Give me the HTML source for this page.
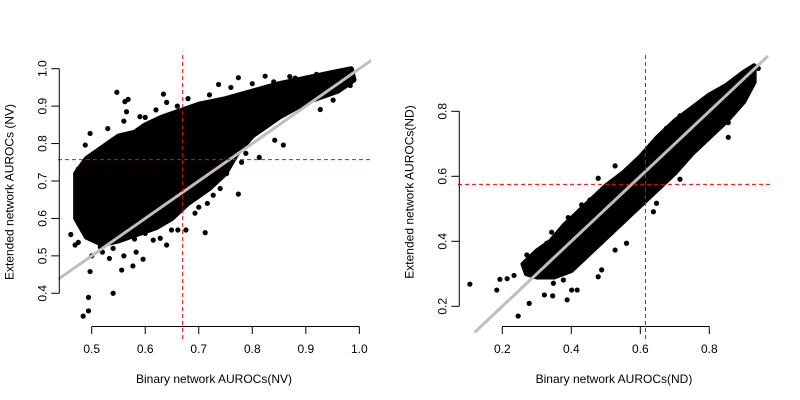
<!DOCTYPE html>
<html><head><meta charset="utf-8"><style>
html,body{margin:0;padding:0;background:#fff;width:800px;height:400px;overflow:hidden}
svg{display:block}
text{font-family:"Liberation Sans",sans-serif;font-size:12px;fill:#000}
</style></head><body>
<svg id="c" width="800" height="400" viewBox="0 0 800 400" xmlns="http://www.w3.org/2000/svg" style="overflow:hidden">
<defs>
<clipPath id="clipL"><rect x="58" y="55" width="313" height="285"/></clipPath>
<clipPath id="clipR"><rect x="458" y="55" width="313" height="285"/></clipPath>
</defs>
</svg>
<script>
// Left panel (NV)
const leftXTicks=[0.5,0.6,0.7,0.8,0.9,1.0];
const leftYTicks=[0.4,0.5,0.6,0.7,0.8,0.9,1.0];
const leftXLabels=["0.5","0.6","0.7","0.8","0.9","1.0"];
const leftYLabels=["0.4","0.5","0.6","0.7","0.8","0.9","1.0"];
const leftVRef=0.67, leftHRef=0.757;
const leftCore=[[0.47,0.60],[0.47,0.72],[0.49,0.76],[0.52,0.79],[0.55,0.82],[0.58,0.83],[0.60,0.85],[0.63,0.87],[0.65,0.88],[0.70,0.905],[0.75,0.92],[0.80,0.94],[0.85,0.96],[0.90,0.975],[0.95,0.99],[0.985,1.0],[0.99,0.97],[0.96,0.94],[0.90,0.91],[0.85,0.87],[0.80,0.82],[0.77,0.77],[0.75,0.72],[0.72,0.68],[0.68,0.64],[0.65,0.60],[0.62,0.575],[0.58,0.555],[0.55,0.54],[0.52,0.53],[0.49,0.55]];
const leftPtsX=[0.484,0.494,0.494,0.540,0.497,0.556,0.577,0.596,0.583,0.533,0.461,0.475,0.469,0.475,0.488,0.547,0.562,0.568,0.565,0.590,0.634,0.737,0.774,0.824,0.870,0.712,0.676,0.661,0.716,0.693,0.727,0.774,0.752,0.788,0.813,0.858,0.842,0.927,0.951,0.983,0.640,0.615,0.628,0.649,0.516,0.531,0.519,0.653,0.497,0.534,0.50,0.52,0.53,0.56,0.60,0.62,0.64,0.66,0.68,0.72,0.76,0.80,0.84,0.88,0.92,0.58,0.54,0.70,0.74,0.78,0.60,0.56];
const leftPtsY=[0.339,0.389,0.353,0.400,0.458,0.462,0.473,0.491,0.510,0.493,0.557,0.536,0.529,0.732,0.796,0.937,0.912,0.918,0.885,0.872,0.932,0.958,0.976,0.980,0.979,0.562,0.569,0.569,0.640,0.614,0.662,0.665,0.720,0.774,0.763,0.796,0.809,0.891,0.916,0.955,0.529,0.542,0.547,0.569,0.524,0.587,0.662,0.627,0.827,0.783,0.50,0.51,0.84,0.86,0.87,0.89,0.91,0.90,0.92,0.93,0.95,0.96,0.965,0.975,0.985,0.545,0.52,0.63,0.68,0.75,0.56,0.50];
// Right panel (ND)
const rightXTicks=[0.2,0.4,0.6,0.8];
const rightYTicks=[0.2,0.4,0.6,0.8];
const rightXLabels=["0.2","0.4","0.6","0.8"];
const rightYLabels=["0.2","0.4","0.6","0.8"];
const rightVRef=0.615, rightHRef=0.575;
const rightCore=[[0.26,0.33],[0.30,0.37],[0.34,0.40],[0.38,0.45],[0.44,0.51],[0.50,0.57],[0.55,0.61],[0.60,0.66],[0.65,0.72],[0.70,0.77],[0.75,0.81],[0.80,0.85],[0.85,0.88],[0.90,0.92],[0.93,0.94],[0.93,0.89],[0.90,0.83],[0.85,0.77],[0.80,0.72],[0.75,0.67],[0.70,0.61],[0.65,0.56],[0.60,0.51],[0.55,0.46],[0.50,0.41],[0.45,0.36],[0.40,0.31],[0.35,0.29],[0.30,0.29],[0.27,0.30]];
const rightPtsX=[0.106,0.184,0.193,0.214,0.234,0.246,0.278,0.271,0.329,0.343,0.322,0.346,0.388,0.401,0.417,0.488,0.478,0.527,0.560,0.638,0.647,0.715,0.676,0.715,0.778,0.855,0.855,0.942,0.527,0.478,0.430,0.391,0.454,0.300,0.290,0.348,0.377];
const rightPtsY=[0.268,0.250,0.283,0.285,0.295,0.170,0.209,0.358,0.394,0.428,0.235,0.232,0.220,0.250,0.250,0.312,0.291,0.373,0.394,0.491,0.517,0.591,0.748,0.786,0.830,0.765,0.720,0.932,0.632,0.594,0.512,0.473,0.527,0.358,0.302,0.271,0.281];

const NS='http://www.w3.org/2000/svg';
const svg=document.getElementById('c');
function mk(tag,attrs,parent){const e=document.createElementNS(NS,tag);for(const k in attrs)e.setAttribute(k,attrs[k]);(parent||svg).appendChild(e);return e;}

function panel(o){
  const sx=v=>o.x0+(v-o.vx0)*o.kx, sy=v=>o.y0+(o.vy0-v)*o.ky;
  const g=mk('g',{});
  
  
  const pg=mk('g',{'clip-path':'url(#'+o.clip+')'},g);
  const poly=mk('polygon',{points:o.core.map(p=>sx(p[0])+','+sy(p[1])).join(' '),fill:'#000',stroke:'#000','stroke-width':5,'stroke-linejoin':'round'},pg);
  
  
  for(let i=0;i<o.px.length;i++){
    const c=mk('circle',{cx:sx(o.px[i]),cy:sy(o.py[i]),r:2.6,fill:'#000'},pg);
    
    
  }
  const dl=mk('line',{x1:sx(o.lo),y1:sy(o.lo),x2:sx(o.hi),y2:sy(o.hi),stroke:'#bebebe','stroke-width':3},pg);
  
  
  const vr=mk('line',{x1:sx(o.vref),y1:o.top,x2:sx(o.vref),y2:o.bot,stroke:'#ff0000','stroke-width':1,'stroke-dasharray':'4,3'},pg);
  
  
  const hr=mk('line',{x1:o.left,y1:sy(o.href),x2:o.right,y2:sy(o.href),stroke:'#ff0000','stroke-width':1,'stroke-dasharray':'4,3'},pg);
  
  
  const xa=mk('g',{},g);
  
  
  mk('line',{x1:sx(o.xt[0]),y1:326.5,x2:sx(o.xt[o.xt.length-1]),y2:326.5,stroke:'#000'},xa);
  o.xt.forEach((v,i)=>{
    mk('line',{x1:sx(v),y1:326.5,x2:sx(v),y2:334,stroke:'#000'},xa);
    const t=mk('text',{x:sx(v),y:353,'text-anchor':'middle'},xa);t.textContent=o.xl[i];
    
    
  });
  const ya=mk('g',{},g);
  
  
  mk('line',{x1:o.ax,y1:sy(o.yt[0]),x2:o.ax,y2:sy(o.yt[o.yt.length-1]),stroke:'#000'},ya);
  o.yt.forEach((v,i)=>{
    mk('line',{x1:o.ax,y1:sy(v),x2:o.ax-8,y2:sy(v),stroke:'#000'},ya);
    const t=mk('text',{x:o.ax-13,y:sy(v),'text-anchor':'middle',transform:'rotate(-90 '+(o.ax-13)+' '+sy(v)+')'},ya);t.textContent=o.yl[i];
    
    
  });
  const xt=mk('text',{x:o.xtX,y:383,'text-anchor':'middle'},g);xt.textContent=o.xtitle;
  
  
  const yt=mk('text',{x:o.ax-46,y:o.ytY,'text-anchor':'middle',transform:'rotate(-90 '+(o.ax-46)+' '+o.ytY+')'},g);yt.textContent=o.ytitle;
  
  
}
panel({name:'left-panel-nv',clip:'clipL',x0:91.7,vx0:0.5,kx:535.3,y0:68.7,vy0:1.0,ky:374.3,ax:59.3,
  left:58,right:371,top:55,bot:340,lo:0.4376,hi:1.03,
  core:leftCore,px:leftPtsX,py:leftPtsY,vref:leftVRef,href:leftHRef,xt:leftXTicks,yt:leftYTicks,xl:leftXLabels,yl:leftYLabels,
  xtitle:'Binary network AUROCs(NV)',ytitle:'Extended network AUROCs (NV)',ytY:192,xtX:214});
panel({name:'right-panel-nd',clip:'clipR',x0:502.3,vx0:0.2,kx:345,y0:111.3,vy0:0.8,ky:325,ax:459.3,
  left:458,right:771,top:55,bot:340,lo:0.12,hi:0.97,
  core:rightCore,px:rightPtsX,py:rightPtsY,vref:rightVRef,href:rightHRef,xt:rightXTicks,yt:rightYTicks,xl:rightXLabels,yl:rightYLabels,
  xtitle:'Binary network AUROCs(ND)',ytitle:'Extended network AUROCs(ND)',ytY:192,xtX:614});
</script>
</body></html>
